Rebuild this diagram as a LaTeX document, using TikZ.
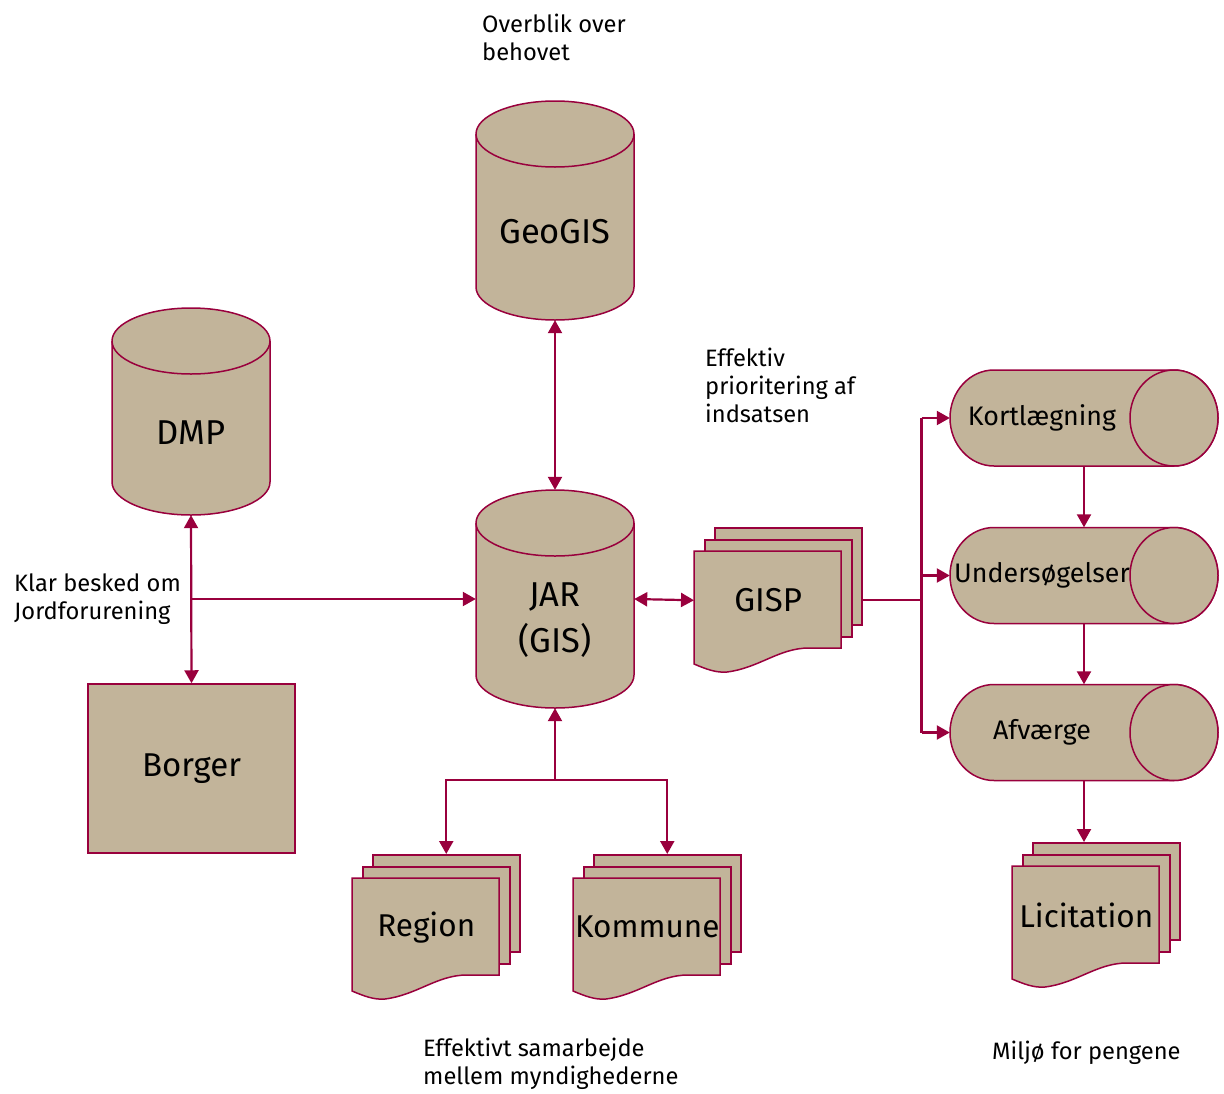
\documentclass[tikz,border=0pt]{standalone}
\usepackage{fontspec}
\setmainfont{Fira Sans}
\usetikzlibrary{arrows.meta,positioning}
\definecolor{jarred}{HTML}{99003D}
\definecolor{jarsand}{HTML}{C2B49A}
\newcommand{\notefont}{\fontsize{23.7}{28}\selectfont}
\newcommand{\midfont}{\fontsize{26.8}{30}\selectfont}
\newcommand{\docfont}{\fontsize{31.5}{40}\selectfont}
\newcommand{\bigfont}{\fontsize{33}{46}\selectfont}
\newcommand{\dbfont}{\fontsize{34.5}{46}\selectfont}
\tikzset{
	base/.style={draw=jarred, fill=jarsand, line width=1.5pt},
	shapebox/.style={rectangle, inner sep=0pt},
	sheet/.style={base, rectangle, anchor=north west, minimum width=147pt, minimum height=97pt, inner sep=0pt},
	wire/.style={draw=jarred, line width=2.2pt},
	link/.style={wire, -{Triangle[length=13pt,width=14pt]}},
	both/.style={wire, {Triangle[length=13pt,width=14pt]}-{Triangle[length=13pt,width=14pt]}},
	note/.style={font=\notefont, align=left, anchor=north west, inner sep=0pt},
}
% upright database: name, x, y, height, text
\newcommand{\dbcyl}[5]{%
	\node[shapebox, minimum width=158pt, minimum height=#4pt] (#1) at (#2,#3) {};
	\begin{scope}[shift={(#2,#3)}]
		\filldraw[base] (-79,{-#4/2+33}) -- (-79,{#4/2-33})
			arc[start angle=180, end angle=0, x radius=79, y radius=33]
			-- (79,{-#4/2+33})
			arc[start angle=0, end angle=-180, x radius=79, y radius=33] -- cycle;
		\draw[base, fill=none] (-79,{-#4/2+33}) arc[start angle=180, end angle=0, x radius=79, y radius=33];
	\end{scope}
	\node[font=\dbfont, align=center] at ([yshift=-21pt]#1.center) {#5};}
% lying cylinder: name, x, y, text
\newcommand{\pipecyl}[4]{%
	\node[shapebox, minimum width=268pt, minimum height=96pt] (#1) at (#2,#3) {};
	\begin{scope}[shift={(#2,#3)}]
		\filldraw[base] (-90,-48) arc[start angle=-90, end angle=-270, x radius=44, y radius=48]
			-- (90,48) arc[start angle=90, end angle=-90, x radius=44, y radius=48] -- cycle;
		\draw[base] (90,0) ellipse [x radius=44, y radius=48];
	\end{scope}
	\node[font=\midfont] at ([xshift=-42pt]#1.center) {#4};}
% stack of three sheets: [font], name, x, y, text
\newcommand{\docstack}[5][\docfont]{%
	\begin{scope}[shift={(#3,#4)}]
		\node[sheet] (#2b) at (20,-24) {};
		\node[sheet] (#2m) at (10,-12) {};
		\filldraw[base] (0,0) -- (147,0) -- (147,97) -- (115,97)
			.. controls (85,97) and (65,117) .. (33,121)
			.. controls (22,122) and (12,118) .. (0,113) -- cycle;
		\node[sheet, draw=none, fill=none, font=#1] (#2) at (0,0) {#5};
	\end{scope}}
\begin{document}
\begin{tikzpicture}[x=1pt,y=-1pt]
	\useasboundingbox (0,0) rectangle (1224,1093);
	% databases and Borger
	\dbcyl{geogis}{555}{210.5}{219}{GeoGIS}
	\dbcyl{dmp}{191}{411.5}{207}{DMP}
	\dbcyl{jar}{555}{599}{218}{JAR\\(GIS)}
	\node[base, minimum width=207pt, minimum height=169pt, font=\bigfont] (borger) at (191.5,768.5) {Borger};
	% process steps
	\pipecyl{kort}{1084}{418}{Kortlægning}
	\pipecyl{under}{1084}{575.5}{Undersøgelser}
	\pipecyl{afv}{1084}{732.5}{Afværge}
	% documents
	\docstack[\bigfont]{gisp}{694}{551}{GISP}
	\docstack{region}{352}{878}{Region}
	\docstack{kommune}{573}{878}{Kommune}
	\docstack{licit}{1012}{866}{Licitation}
	% notes
	\node[note] (overblik) at (482,14) {Overblik over\\behovet};
	\node[note] (prior) at (705,348) {Effektiv\\prioritering af\\indsatsen};
	\node[note] (klar) at (14,574) {Klar besked om\\Jordforurening};
	\node[note] (samarb) at (423,1038) {Effektivt samarbejde\\mellem myndighederne};
	\node[note] (miljo) at (992,1041) {Miljø for pengene};
	% connectors
	\draw[both] (geogis.south) -- (jar.north);
	\draw[both] (dmp.south) -- (borger.north);
	\coordinate (besked) at (dmp.south |- jar.west);
	\draw[link] (besked) -- (jar.west);
	\draw[both] (jar.east) -- (gisp.west);
	\coordinate (fork) at ([xshift=59pt]gispb.east |- gisp.east);
	\draw[wire] (gispb.east |- gisp.east) -- (fork);
	\draw[wire] (fork |- kort.west) -- (fork |- afv.west);
	\foreach \n in {kort,under,afv}
		\draw[link] (fork |- \n.west) -- (\n.west);
	\draw[link] (kort.south) -- (under.north);
	\draw[link] (under.south) -- (afv.north);
	\draw[link] (afv.south) -- (afv.south |- licitb.north);
	\coordinate (split) at (555,780);
	\draw[link] (split) -- (jar.south);
	\draw[link] (split) -| (regionb.north);
	\draw[link] (split) -| (kommuneb.north);
\end{tikzpicture}
\end{document}
